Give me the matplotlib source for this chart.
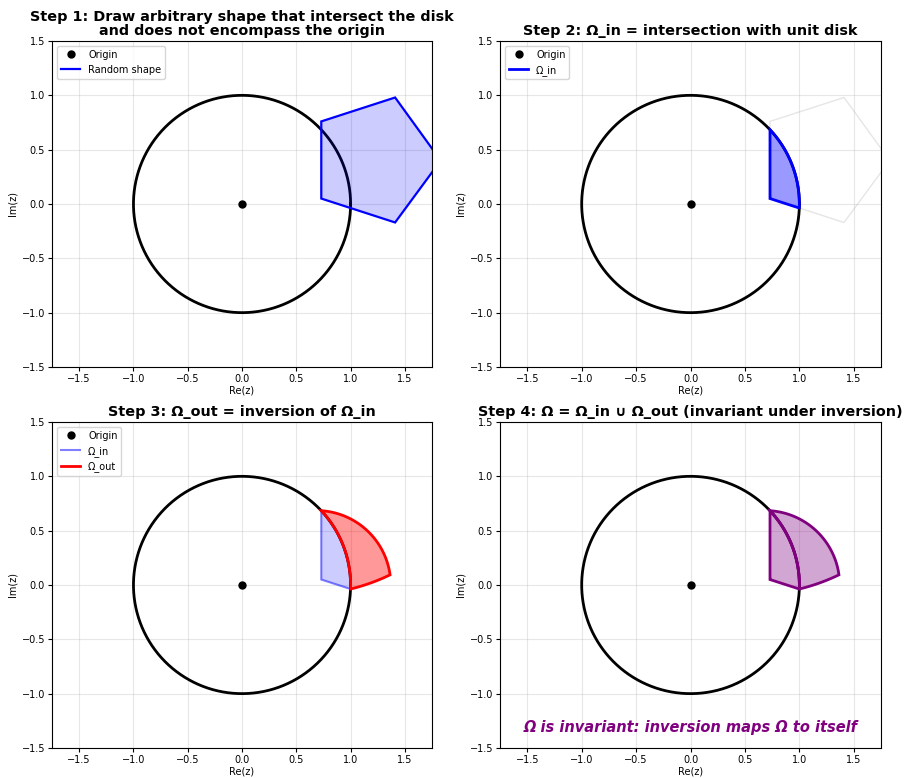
import numpy as np
import matplotlib
matplotlib.use("Agg")
import matplotlib.pyplot as plt
from matplotlib.path import Path
from matplotlib.patches import Polygon

# Data: vertices of the arbitrary shape (pentagon)
shape_x = [1.83, 1.41, 0.73, 0.73, 1.41]
shape_y = [0.40, 0.98, 0.76, 0.05, -0.17]

titles = [
    "Step 1: Draw arbitrary shape that intersect the disk\nand does not encompass the origin",
    "Step 2: \u03a9_in = intersection with unit disk",
    "Step 3: \u03a9_out = inversion of \u03a9_in",
    "Step 4: \u03a9 = \u03a9_in \u222a \u03a9_out (invariant under inversion)",
]
note_text = "\u03a9 is invariant: inversion maps \u03a9 to itself"

# ---- geometry helpers ----
poly = np.column_stack([shape_x, shape_y])
poly_closed = np.vstack([poly, poly[:1]])

def densify(pts, n=400):
    out = []
    for a, b in zip(pts[:-1], pts[1:]):
        t = np.linspace(0, 1, n, endpoint=False)[:, None]
        out.append(a + t * (b - a))
    return np.vstack(out)

dense_poly = densify(poly_closed)
inside_disk = dense_poly[np.hypot(dense_poly[:, 0], dense_poly[:, 1]) <= 1.0]
th = np.linspace(0, 2 * np.pi, 4000, endpoint=False)
circ = np.column_stack([np.cos(th), np.sin(th)])
circ_in = circ[Path(poly_closed).contains_points(circ)]
pts = np.vstack([inside_disk, circ_in])
c = pts.mean(axis=0)
order = np.argsort(np.arctan2(pts[:, 1] - c[1], pts[:, 0] - c[0]))
om_in = pts[order]
r2 = (om_in ** 2).sum(axis=1)[:, None]
om_out = om_in / r2

tc = np.linspace(0, 2 * np.pi, 400)

fig = plt.figure(figsize=(9.08, 7.78), dpi=100)
positions = [
    [0.0573, 0.5283, 0.4185, 0.4190],
    [0.5507, 0.5283, 0.4196, 0.4190],
    [0.0573, 0.0386, 0.4185, 0.4190],
    [0.5507, 0.0386, 0.4196, 0.4190],
]
axes = [fig.add_axes(p) for p in positions]

for i, ax in enumerate(axes):
    ax.plot(np.cos(tc), np.sin(tc), color="black", lw=2, zorder=3)
    ax.set_xlim(-1.75, 1.75)
    ax.set_ylim(-1.5, 1.5)
    ax.set_xticks([-1.5, -1.0, -0.5, 0.0, 0.5, 1.0, 1.5])
    ax.set_yticks([-1.5, -1.0, -0.5, 0.0, 0.5, 1.0, 1.5])
    ax.tick_params(labelsize=7, length=3, pad=2)
    ax.grid(True, alpha=0.3)
    ax.set_xlabel("Re(z)", fontsize=7, labelpad=1)
    ax.set_ylabel("Im(z)", fontsize=7, labelpad=3)
    ax.set_title(titles[i], fontsize=10.4, fontweight="bold", pad=4, linespacing=1.05)

def patch(ax, xy, fc, alpha_f, ec, lw, alpha_e=1.0, z=4):
    ax.add_patch(Polygon(xy, closed=True, facecolor=fc, alpha=alpha_f, lw=0, zorder=z - 1))
    ax.add_patch(Polygon(xy, closed=True, fill=False, edgecolor=ec, lw=lw, alpha=alpha_e,
                         joinstyle="miter", zorder=z))

# Step 1
ax = axes[0]
patch(ax, poly, "blue", 0.2, "blue", 1.6)
ax.plot([], [], color="blue", lw=1.6, label="Random shape")
ax.plot([0], [0], "o", color="black", ms=5, label="Origin", zorder=5)
h, l = ax.get_legend_handles_labels()
ax.legend([h[1], h[0]], [l[1], l[0]], loc="upper left", fontsize=7)

# Step 2
ax = axes[1]
ax.add_patch(Polygon(poly, closed=True, fill=False, edgecolor="gray", lw=1, alpha=0.2))
patch(ax, om_in, "blue", 0.4, "blue", 2)
ax.plot([], [], color="blue", lw=2, label="\u03a9_in")
ax.plot([0], [0], "o", color="black", ms=5, label="Origin", zorder=5)
h, l = ax.get_legend_handles_labels()
ax.legend([h[1], h[0]], [l[1], l[0]], loc="upper left", fontsize=7)

# Step 3
ax = axes[2]
patch(ax, om_in, "blue", 0.2, "blue", 1.5, alpha_e=0.5)
patch(ax, om_out, "red", 0.4, "red", 2)
ax.plot([], [], color="blue", lw=1.5, alpha=0.5, label="\u03a9_in")
ax.plot([], [], color="red", lw=2, label="\u03a9_out")
ax.plot([0], [0], "o", color="black", ms=5, label="Origin", zorder=5)
h, l = ax.get_legend_handles_labels()
ax.legend([h[2], h[0], h[1]], [l[2], l[0], l[1]], loc="upper left", fontsize=7)

# Step 4
ax = axes[3]
patch(ax, om_in, "purple", 0.35, "purple", 2)
patch(ax, om_out, "purple", 0.35, "purple", 2)
ax.plot([0], [0], "o", color="black", ms=5, zorder=5)
ax.text(0, -1.31, note_text, ha="center", va="center", fontsize=10.5,
        color="purple", fontweight="bold", fontstyle="italic")

fig.savefig("out.png", dpi=100)
